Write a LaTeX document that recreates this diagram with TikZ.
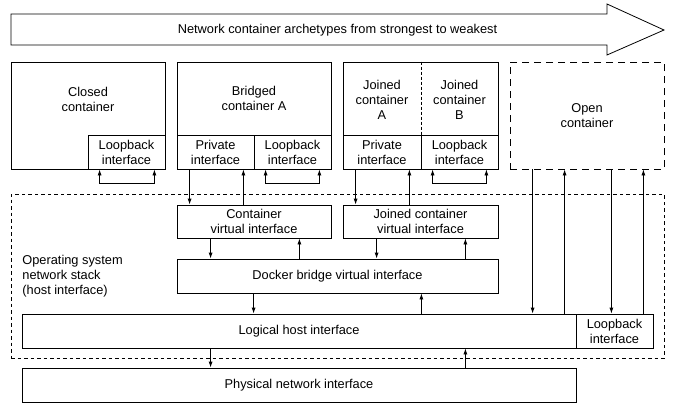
\documentclass[tikz,border=0pt]{standalone}
\usepackage{fontspec}
\setmainfont{Liberation Sans}
\usepackage{tikz}
\usetikzlibrary{arrows.meta}
\usetikzlibrary{calc}

\begin{document}
\begin{tikzpicture}[x=1pt, y=-1pt, line width=0.8pt,
	font=\fontsize{12.8}{15}\selectfont,
	box/.style={draw, rectangle, align=center, inner sep=0pt},
	txt/.style={align=center, inner sep=0pt}]
	\useasboundingbox (0,0) rectangle (679,410);

	% big arrow on top
	\draw (11,14) -- (607,14) -- (607,4) -- (664,30) -- (607,55) -- (607,45) -- (11,45) -- cycle;
	\node[txt] (archetypes) at (337.5,30) {Network container archetypes from strongest to weakest};

	\begin{scope}[every node/.style={box}]
		\node[minimum width=154, minimum height=107] (closed) at (88,115.5) {};
		\node[minimum width=77, minimum height=34] (closedlb) at (126.5,152) {Loopback\\interface};
		\node[minimum width=154, minimum height=73] (bridged) at (254,98.5) {Bridged\\container A};
		\node[minimum width=77, minimum height=34] (bpriv) at (215.5,152) {Private\\interface};
		\node[minimum width=77, minimum height=34] (blb) at (292.5,152) {Loopback\\interface};
		\node[minimum width=155, minimum height=107] (joined) at (420.5,115.5) {};
		\node[minimum width=78, minimum height=34] (jpriv) at (382,152) {Private\\interface};
		\node[minimum width=77, minimum height=34] (jlb) at (459.5,152) {Loopback\\interface};
		\node[minimum width=154, minimum height=107, dash pattern=on 7pt off 5pt] (open) at (587,115.5) {Open\\container};
		\node[minimum width=653, minimum height=164, dash pattern=on 3.5pt off 3pt] (os) at (337.5,276) {};
		\node[minimum width=154, minimum height=33] (cvi) at (254,221.5) {Container\\virtual interface};
		\node[minimum width=155, minimum height=33] (jvi) at (420.5,221.5) {Joined container\\virtual interface};
		\node[minimum width=321, minimum height=34] (dbvi) at (337.5,276) {Docker bridge virtual interface};
		\node[minimum width=554, minimum height=34] (lhi) at (299,331) {Logical host interface};
		\node[minimum width=77, minimum height=34] (hlb) at (614.5,331) {Loopback\\interface};
		\node[minimum width=554, minimum height=34] (pni) at (299,385) {Physical network interface};
	\end{scope}

	\begin{scope}[every node/.style={txt}]
		\node (closedtxt) at (88,99.5) {Closed\\container};
		\node (jAtxt) at (382,100) {Joined\\container\\A};
		\node (jBtxt) at (459.5,100) {Joined\\container\\B};
		\node[anchor=west, align=left] (ostxt) at (22,276) {Operating system\\network stack\\(host interface)};
	\end{scope}
	\draw[dash pattern=on 3pt off 2pt] (jpriv.north east |- joined.north) -- (jpriv.north east);

	\begin{scope}[>={Latex[length=6pt, width=4pt]}]
		% loopbacks
		\draw[<->] ([xshift=12]closedlb.south west) -- ++(0,14) -| ([xshift=-11]closedlb.south east);
		\draw[<->] ([xshift=12]blb.south west) -- ++(0,14) -| ([xshift=-12]blb.south east);
		\draw[<->] ([xshift=12]jlb.south west) -- ++(0,14) -| ([xshift=-12]jlb.south east);
		% containers to virtual interfaces
		\draw[->] ([xshift=13]bpriv.south west) -- ([xshift=13]bpriv.south west |- cvi.north);
		\draw[<-] ([xshift=-11]bpriv.south east) -- ([xshift=-11]bpriv.south east |- cvi.north);
		\draw[->] ([xshift=13]jpriv.south west) -- ([xshift=13]jpriv.south west |- jvi.north);
		\draw[<-] ([xshift=-12]jpriv.south east) -- ([xshift=-12]jpriv.south east |- jvi.north);
		% virtual interfaces to bridge
		\draw[->] ([xshift=34]cvi.south west) -- ([xshift=34]cvi.south west |- dbvi.north);
		\draw[<-] ([xshift=-32]cvi.south east) -- ([xshift=-32]cvi.south east |- dbvi.north);
		\draw[->] ([xshift=34]jvi.south west) -- ([xshift=34]jvi.south west |- dbvi.north);
		\draw[<-] ([xshift=-33]jvi.south east) -- ([xshift=-33]jvi.south east |- dbvi.north);
		% bridge to host
		\draw[->] ([xshift=77]dbvi.south west) -- ([xshift=77]dbvi.south west |- lhi.north);
		\draw[<-] ([xshift=-77]dbvi.south east) -- ([xshift=-77]dbvi.south east |- lhi.north);
		% open container
		\draw[->] ([xshift=23]open.south west) -- ([xshift=23]open.south west |- lhi.north);
		\draw[<-] ([xshift=55]open.south west) -- ([xshift=55]open.south west |- lhi.north);
		\draw[->] ([xshift=-53]open.south east) -- ([xshift=-53]open.south east |- hlb.north);
		\draw[<-] ([xshift=-21]open.south east) -- ([xshift=-21]open.south east |- hlb.north);
		% host to physical
		\draw[->] ([xshift=189]lhi.south west) -- ([xshift=189]lhi.south west |- pni.north);
		\draw[<-] ([xshift=-111]lhi.south east) -- ([xshift=-111]lhi.south east |- pni.north);
	\end{scope}
\end{tikzpicture}
\end{document}
